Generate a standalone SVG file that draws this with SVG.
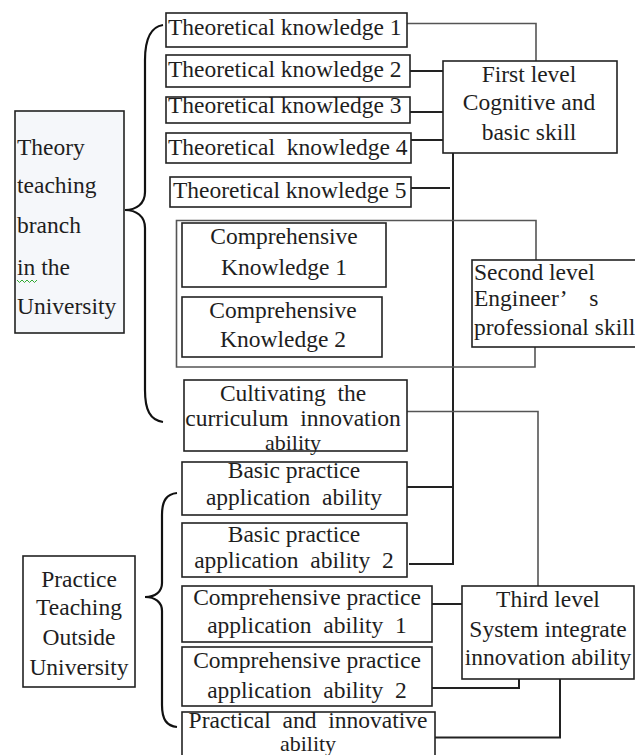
<svg xmlns="http://www.w3.org/2000/svg" width="635" height="755" viewBox="0 0 635 755">
<style>
text{font-family:'Liberation Serif','Times New Roman','DejaVu Serif',serif;font-size:23.5px;fill:#1e1e1e;white-space:pre}
.c{text-anchor:middle}
.s{font-size:22px}
.box{fill:#fff;stroke:#222;stroke-width:1.6}
.lbox{fill:#f5f7fa;stroke:#222;stroke-width:1.6}
.ln{fill:none;stroke:#222;stroke-width:2}
.lg{fill:none;stroke:#555;stroke-width:1.6}
.br{fill:none;stroke:#111;stroke-width:2.2}
</style>
<rect width="635" height="755" fill="#fff"/>
<g id="connectors">
<path class="lg" d="M407,23.5 H536 V61"/>
<path class="ln" d="M410,71 H443"/>
<path class="ln" d="M410,112 H443"/>
<path class="ln" d="M411,140 H443"/>
<path class="ln" d="M411,188 H450"/>
<path class="ln" d="M453,153 V564 H409"/>
<path class="ln" d="M407,487 H453"/>
<path class="lg" d="M536,260 V220.5 H176.5 V367 H535 V347"/>
<path class="lg" d="M407,411.5 H538 V586"/>
<path class="ln" d="M432,604 H462"/>
<path class="ln" d="M432,688 H519 V679"/>
<path class="ln" d="M435,737.5 H560 V679"/>
<path class="br" d="M163,25 C150,27 145,40 145,60 L145,192 C145,204 136,210 125,210 C136,210 145,216 145,228 L145,390 C145,410 150,420 163,422"/>
<path class="br" d="M177,493 C167,494 162,500 162,515 L162,583 C162,592 155,597 145,597 C155,597 162,602 162,611 L162,705 C162,720 167,726 177,727"/>
</g>
<g id="theory">
<rect class="lbox" x="15" y="111" width="109" height="222"/>
<text x="17" y="155" font-family="Liberation Serif, serif">Theory</text>
<text x="17" y="193">teaching</text>
<text x="17" y="233">branch</text>
<text x="17" y="275">in the</text>
<text x="17" y="314">University</text>
<path d="M17,280 l2.5,2.5 l2.5,-2.5 l2.5,2.5 l2.5,-2.5 l2.5,2.5 l2.5,-2.5 l2.5,2.5 l2.5,-2.5" fill="none" stroke="#3a3" stroke-width="1"/>
</g>
<g id="tk1"><rect class="box" x="166" y="13" width="241" height="34"/><text x="168" y="35">Theoretical knowledge 1</text></g>
<g id="tk2"><rect class="box" x="166" y="55" width="244" height="32"/><text x="168" y="77">Theoretical knowledge 2</text></g>
<g id="tk3"><rect class="box" x="166" y="97" width="244" height="26"/><text x="168" y="113">Theoretical knowledge 3</text></g>
<g id="tk4"><rect class="box" x="166" y="133" width="245" height="30"/><text x="168" y="155">Theoretical  knowledge 4</text></g>
<g id="tk5"><rect class="box" x="170" y="177" width="241" height="30"/><text x="173" y="198">Theoretical knowledge 5</text></g>
<g id="first"><rect class="box" x="443" y="61" width="174" height="92"/>
<text class="c" x="529" y="82">First level</text>
<text class="c" x="529" y="110">Cognitive and</text>
<text class="c" x="529" y="140">basic skill</text></g>
<g id="ck1"><rect class="box" x="182" y="223" width="204" height="64"/>
<text class="c" x="284" y="244">Comprehensive</text>
<text class="c" x="284" y="275">Knowledge 1</text></g>
<g id="ck2"><rect class="box" x="182" y="297" width="200" height="60"/>
<text class="c" x="283" y="318">Comprehensive</text>
<text class="c" x="283" y="347">Knowledge 2</text></g>
<g id="second"><rect class="box" x="472" y="260" width="170" height="87"/>
<text x="474" y="280">Second level</text>
<text x="474" y="306">Engineer’    s</text>
<text x="474" y="335">professional skill</text></g>
<g id="cultivating"><rect class="box" x="184" y="380" width="223" height="71"/>
<text class="c" x="293" y="401">Cultivating  the</text>
<text class="c" x="293" y="426">curriculum  innovation</text>
<text class="c s" x="293" y="450">ability</text></g>
<g id="practice"><rect class="box" x="23" y="556" width="112" height="131"/>
<text class="c" x="79" y="587">Practice</text>
<text class="c" x="79" y="615">Teaching</text>
<text class="c" x="79" y="645">Outside</text>
<text class="c" x="79" y="675">University</text></g>
<g id="bp1"><rect class="box" x="182" y="462" width="225" height="53"/>
<text class="c" x="294" y="478">Basic practice</text>
<text class="c" x="294" y="505">application  ability</text></g>
<g id="bp2"><rect class="box" x="182" y="523" width="225" height="54"/>
<text class="c" x="294" y="542">Basic practice</text>
<text class="c" x="294" y="568">application  ability  2</text></g>
<g id="cpa1"><rect class="box" x="182" y="586" width="250" height="56"/>
<text class="c" x="307" y="605">Comprehensive practice</text>
<text class="c" x="307" y="633">application  ability  1</text></g>
<g id="cpa2"><rect class="box" x="182" y="647" width="250" height="59"/>
<text class="c" x="307" y="668">Comprehensive practice</text>
<text class="c" x="307" y="698">application  ability  2</text></g>
<g id="practical"><rect class="box" x="182" y="712" width="253" height="50"/>
<text class="c" x="308" y="728">Practical  and  innovative</text>
<text class="c s" x="308" y="751">ability</text></g>
<g id="third"><rect class="box" x="462" y="586" width="172" height="93"/>
<text class="c" x="548" y="607">Third level</text>
<text class="c" x="548" y="637">System integrate</text>
<text class="c" x="548" y="665">innovation ability</text></g>
</svg>
